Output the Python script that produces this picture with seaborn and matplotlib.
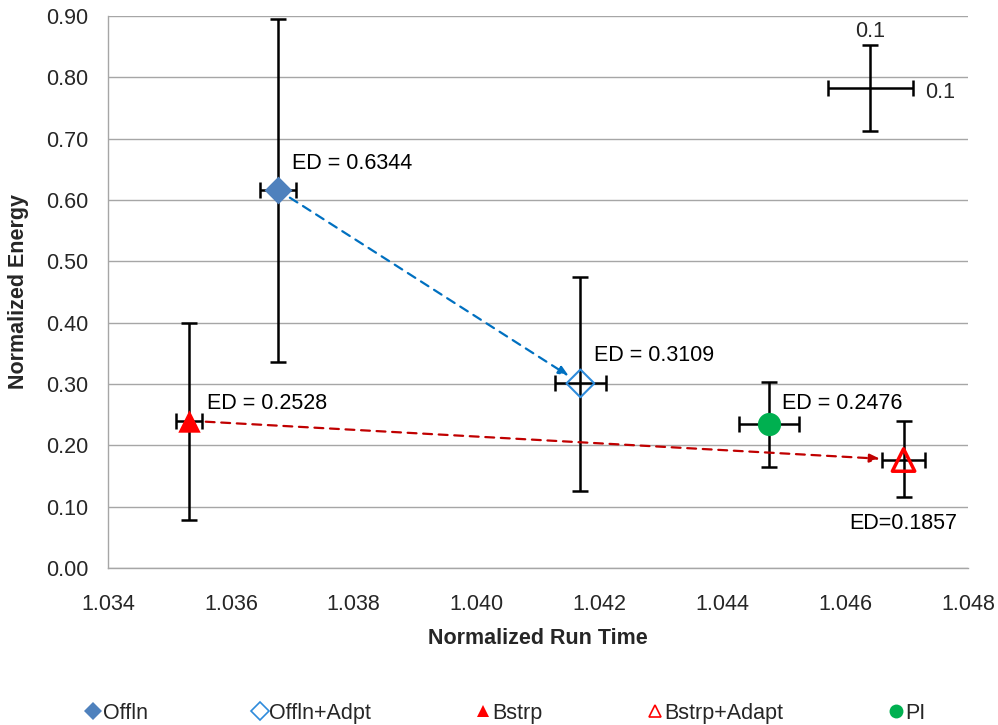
import matplotlib
matplotlib.use("Agg")
import matplotlib.pyplot as plt
from matplotlib.lines import Line2D
import seaborn as sns
import pandas as pd

# Measured points: normalized run time vs normalized energy, with spreads
methods = ["Offln", "Offln+Adpt", "Bstrp", "Bstrp+Adapt", "PI"]
run_time = [1.03677, 1.04169, 1.03532, 1.04695, 1.04476]
energy = [0.616, 0.301, 0.240, 0.176, 0.234]
energy_err_hi = [0.279, 0.174, 0.159, 0.064, 0.070]
energy_err_lo = [0.280, 0.175, 0.162, 0.061, 0.070]
time_err = [0.00029, 0.00042, 0.00021, 0.00035, 0.00049]
ed_labels = ["ED = 0.6344", "ED = 0.3109", "ED = 0.2528", "ED=0.1857", "ED = 0.2476"]

# Scale reference cross
scale_x, scale_y = 1.04641, 0.782
scale_xerr, scale_yerr = 0.00069, 0.07

x_ticks = [1.034, 1.036, 1.038, 1.040, 1.042, 1.044, 1.046, 1.048]
y_ticks = [0.0, 0.1, 0.2, 0.3, 0.4, 0.5, 0.6, 0.7, 0.8, 0.9]

df = pd.DataFrame({"method": methods, "run_time": run_time, "energy": energy})

sns.set_style("white")
plt.rcParams["font.family"] = ["Liberation Sans", "DejaVu Sans"]
FS = 15.5

fig = plt.figure(figsize=(9.98, 7.25), dpi=100)
ax = fig.add_axes([0.1082, 0.2166, 0.8618, 0.7613])

styles = {
    "Offln":       dict(marker="D", face="#4F81BD", edge="#4F81BD", size=200),
    "Offln+Adpt":  dict(marker="D", face="none", edge="#2E8BDB", size=200),
    "Bstrp":       dict(marker="^", face="#FF0000", edge="#FF0000", size=260),
    "Bstrp+Adapt": dict(marker="^", face="none", edge="#FF0000", size=260),
    "PI":          dict(marker="o", face="#00B050", edge="#00B050", size=280),
}

# grid
ax.set_axisbelow(True)
ax.yaxis.grid(True, color="#A6A6A6", linewidth=1.0)
ax.xaxis.grid(False)

# error bars
for i, m in enumerate(methods):
    ax.errorbar(run_time[i], energy[i],
                yerr=[[energy_err_lo[i]], [energy_err_hi[i]]],
                xerr=time_err[i], fmt="none", ecolor="black",
                elinewidth=1.8, capsize=6, capthick=1.8, zorder=3)

ax.errorbar(scale_x, scale_y, xerr=scale_xerr, yerr=scale_yerr, fmt="none",
            ecolor="black", elinewidth=1.8, capsize=6, capthick=1.8, zorder=3)

# markers
for m in methods:
    st = styles[m]
    sub = df[df["method"] == m]
    lw = 1.5 if st["face"] == "none" else 0
    if st["marker"] == "^" and st["face"] == "none":
        lw = 2.5
    sns.scatterplot(data=sub, x="run_time", y="energy", ax=ax,
                    marker=st["marker"], s=st["size"],
                    facecolor=st["face"], edgecolor=st["edge"],
                    linewidth=lw, zorder=4, legend=False)

# dashed transition arrows
idx = {m: i for i, m in enumerate(methods)}
def transition(a, b, color, shrink_a, shrink_b):
    ia, ib = idx[a], idx[b]
    ax.annotate("", xy=(run_time[ib], energy[ib]),
                xytext=(run_time[ia], energy[ia]),
                arrowprops=dict(arrowstyle="-|>,head_length=0.6,head_width=0.25",
                                linestyle=(0, (4, 3)), color=color, lw=1.6,
                                shrinkA=shrink_a, shrinkB=shrink_b),
                zorder=3)

transition("Offln", "Offln+Adpt", "#0070C0", 10, 10)
transition("Bstrp", "Bstrp+Adapt", "#C00000", 12, 17)

# energy-delay labels
label_pos = {
    "Offln": (1.03699, 0.660, "left"),
    "Offln+Adpt": (1.04191, 0.347, "left"),
    "Bstrp": (1.03561, 0.268, "left"),
    "Bstrp+Adapt": (1.04607, 0.073, "left"),
    "PI": (1.04497, 0.268, "left"),
}
for i, m in enumerate(methods):
    tx, ty, ha = label_pos[m]
    ax.text(tx, ty, ed_labels[i], fontsize=FS, ha=ha, va="center", color="black")

ax.text(scale_x, 0.874, "0.1", fontsize=FS, ha="center", va="center")
ax.text(1.04730, 0.776, "0.1", fontsize=FS, ha="left", va="center")

ax.set_xlim(1.034, 1.048)
ax.set_ylim(0.0, 0.9)
ax.set_xticks(x_ticks)
ax.set_xticklabels([f"{v:.3f}" for v in x_ticks], fontsize=FS)
ax.set_yticks(y_ticks)
ax.set_yticklabels([f"{v:.2f}" for v in y_ticks], fontsize=FS)
ax.tick_params(axis="x", direction="out", length=7, color="#A6A6A6", pad=12)
ax.tick_params(axis="y", direction="out", length=6, color="#A6A6A6", pad=8)

for side in ["top", "right"]:
    ax.spines[side].set_visible(False)
for side in ["left", "bottom"]:
    ax.spines[side].set_color("#A6A6A6")
    ax.spines[side].set_linewidth(1.0)

ax.set_xlabel("Normalized Run Time", fontsize=FS, fontweight="bold", labelpad=9)
ax.set_ylabel("Normalized Energy", fontsize=FS, fontweight="bold", labelpad=12)

# legend
handles = []
for m in methods:
    st = styles[m]
    handles.append(Line2D([], [], linestyle="none", marker=st["marker"],
                          markersize=9 if st["marker"] != "o" else 10,
                          markerfacecolor=st["face"], markeredgecolor=st["edge"],
                          markeredgewidth=1.2 if st["face"] == "none" else 0,
                          label=m))
fig.legend(handles=handles, loc="center", bbox_to_anchor=(0.507, 0.016),
           ncol=5, frameon=False, fontsize=FS, handlelength=0.6,
           handletextpad=0.15, columnspacing=4.9)

fig.savefig("out.png", dpi=100)
